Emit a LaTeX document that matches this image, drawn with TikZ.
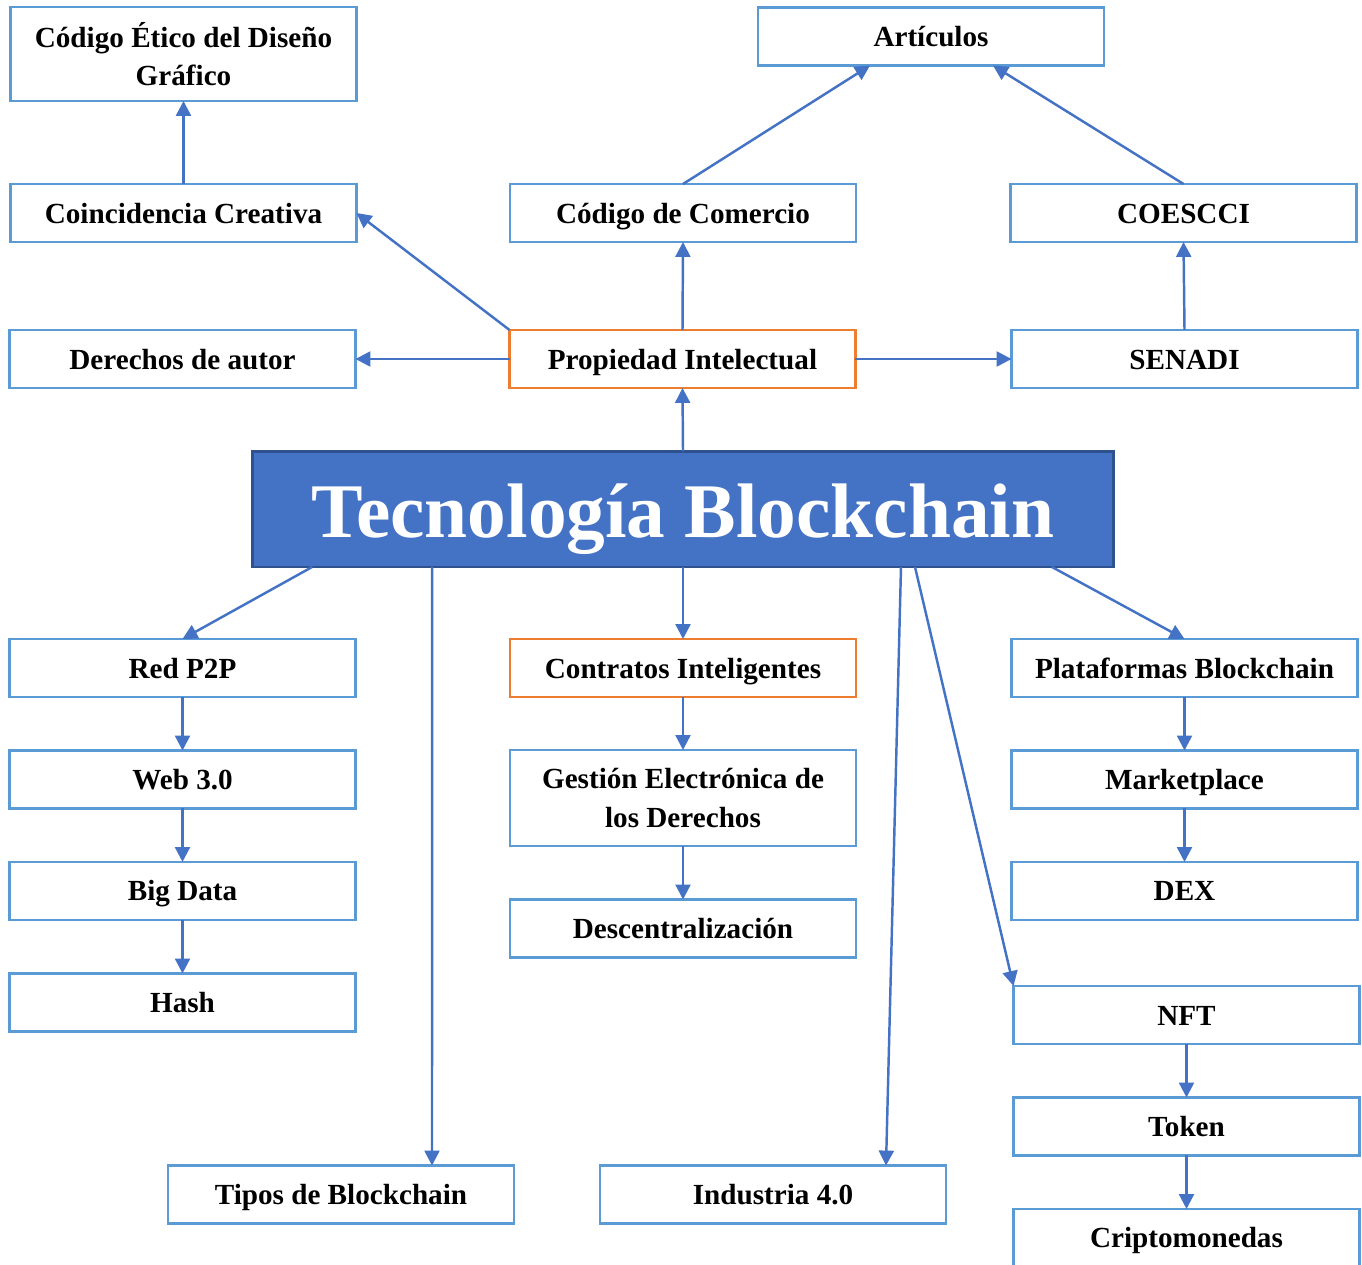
\documentclass[tikz,border=0pt]{standalone}
\usepackage{fontspec}
\setmainfont{Liberation Serif}
\usetikzlibrary{
  arrows.meta,
  positioning,
  calc
}
\definecolor{bcframe}{HTML}{5B9BD5}
\definecolor{bcarrow}{HTML}{4472C4}
\definecolor{bcfill}{HTML}{4472C4}
\definecolor{bcnavy}{HTML}{2F528F}
\definecolor{bcorange}{HTML}{ED7D31}

\begin{document}
\begin{tikzpicture}[
      x=0.02cm, y=-0.02cm,
      base/.style={
        rectangle, draw=bcframe, line width=1.4pt, fill=white,
        minimum width=6.92cm, minimum height=1.16cm,
        inner sep=2pt, outer sep=0pt, align=center,
        font=\fontsize{16.6pt}{22pt}\selectfont\bfseries
      },
      box/.style={base, text height=12pt, text depth=0.6pt},
      key/.style={box, draw=bcorange},
      tall/.style={base, minimum height=1.92cm},
      title/.style={
        rectangle, draw=bcnavy, line width=1.7pt, fill=bcfill,
        minimum width=17.24cm, minimum height=2.32cm, outer sep=0pt,
        text height=32pt, text depth=0pt,
        font=\fontsize{44pt}{50pt}\selectfont\bfseries\color{white}
      },
      arrow/.style={-{Triangle[length=8.5pt, width=8.5pt]}, line width=1.4pt, bcarrow},
      chain/.style={below=1.07cm of #1}
    ]
      \useasboundingbox (0,0) rectangle (1362,1264);

      % Centre
      \node[title] (tec) at (683,509) {Tecnología Blockchain};

      % Upper blocks
      \node[key] (prop) at (682.5,359) {Propiedad Intelectual};
      \node[box] (der) at (182.5,359) {Derechos de autor};
      \node[box] (senadi) at (1184.5,359) {SENADI};
      \node[box] (coin) at (183.5,213) {Coincidencia Creativa};
      \node[box] (comer) at (683,213) {Código de Comercio};
      \node[box] (coescci) at (1183.5,213) {COESCCI};
      \node[tall, minimum height=1.88cm] (etico) at (183.5,54) {Código Ético del Diseño\\Gráfico};
      \node[box] (art) at (931,36.5) {Artículos};

      % Lower blocks
      \node[box] (p2p) at (182.5,668) {Red P2P};
      \node[box, chain=p2p] (web) {Web 3.0};
      \node[box, chain=web] (big) {Big Data};
      \node[box, chain=big] (hash) {Hash};

      \node[key] (contr) at (683,668) {Contratos Inteligentes};
      \node[tall, below=1.06cm of contr] (gest) {Gestión Electrónica de\\los Derechos};
      \node[box, chain=gest] (desc) {Descentralización};

      \node[box] (plat) at (1184.5,668) {Plataformas Blockchain};
      \node[box, chain=plat] (mkt) {Marketplace};
      \node[box, chain=mkt] (dex) {DEX};

      \node[box] (nft) at (1186.5,1015) {NFT};
      \node[box, chain=nft] (tok) {Token};
      \node[box, chain=tok] (cripto) {Criptomonedas};

      \node[box] (tipos) at (341,1194.5) {Tipos de Blockchain};
      \node[box] (ind) at (773,1194.5) {Industria 4.0};

      % Upper arrows
      \draw[arrow] (tec.north) -- (prop.south);
      \draw[arrow] (prop.west) -- (der.east);
      \draw[arrow] (prop.east) -- (senadi.west);
      \draw[arrow] (prop.north west) -- (coin.east);
      \draw[arrow] (prop.north) -- (comer.south);
      \draw[arrow] (senadi.north) -- (coescci.south);
      \draw[arrow] (coin.north) -- (etico.south);
      \draw[arrow] (comer.north) -- ($(art.south)+(-61,0)$);
      \draw[arrow] (coescci.north) -- ($(art.south)+(62,0)$);

      % Lower arrows
      \draw[arrow] ($(tec.south west)+(60,0)$) -- (p2p.north);
      \draw[arrow] ($(tec.south west)+(180,0)$) -- ($(tipos.north)+(91,0)$);
      \draw[arrow] (tec.south) -- (contr.north);
      \draw[arrow] ($(tec.south)+(218,0)$) -- ($(ind.north)+(113,0)$);
      \draw[arrow] ($(tec.south)+(232,0)$) -- (nft.north west);
      \draw[arrow] ($(tec.south east)+(-62,0)$) -- (plat.north);

      % Chains
      \draw[arrow] (p2p) -- (web);
      \draw[arrow] (web) -- (big);
      \draw[arrow] (big) -- (hash);
      \draw[arrow] (contr) -- (gest);
      \draw[arrow] (gest) -- (desc);
      \draw[arrow] (plat) -- (mkt);
      \draw[arrow] (mkt) -- (dex);
      \draw[arrow] (nft) -- (tok);
      \draw[arrow] (tok) -- (cripto);
    \end{tikzpicture}
\end{document}
